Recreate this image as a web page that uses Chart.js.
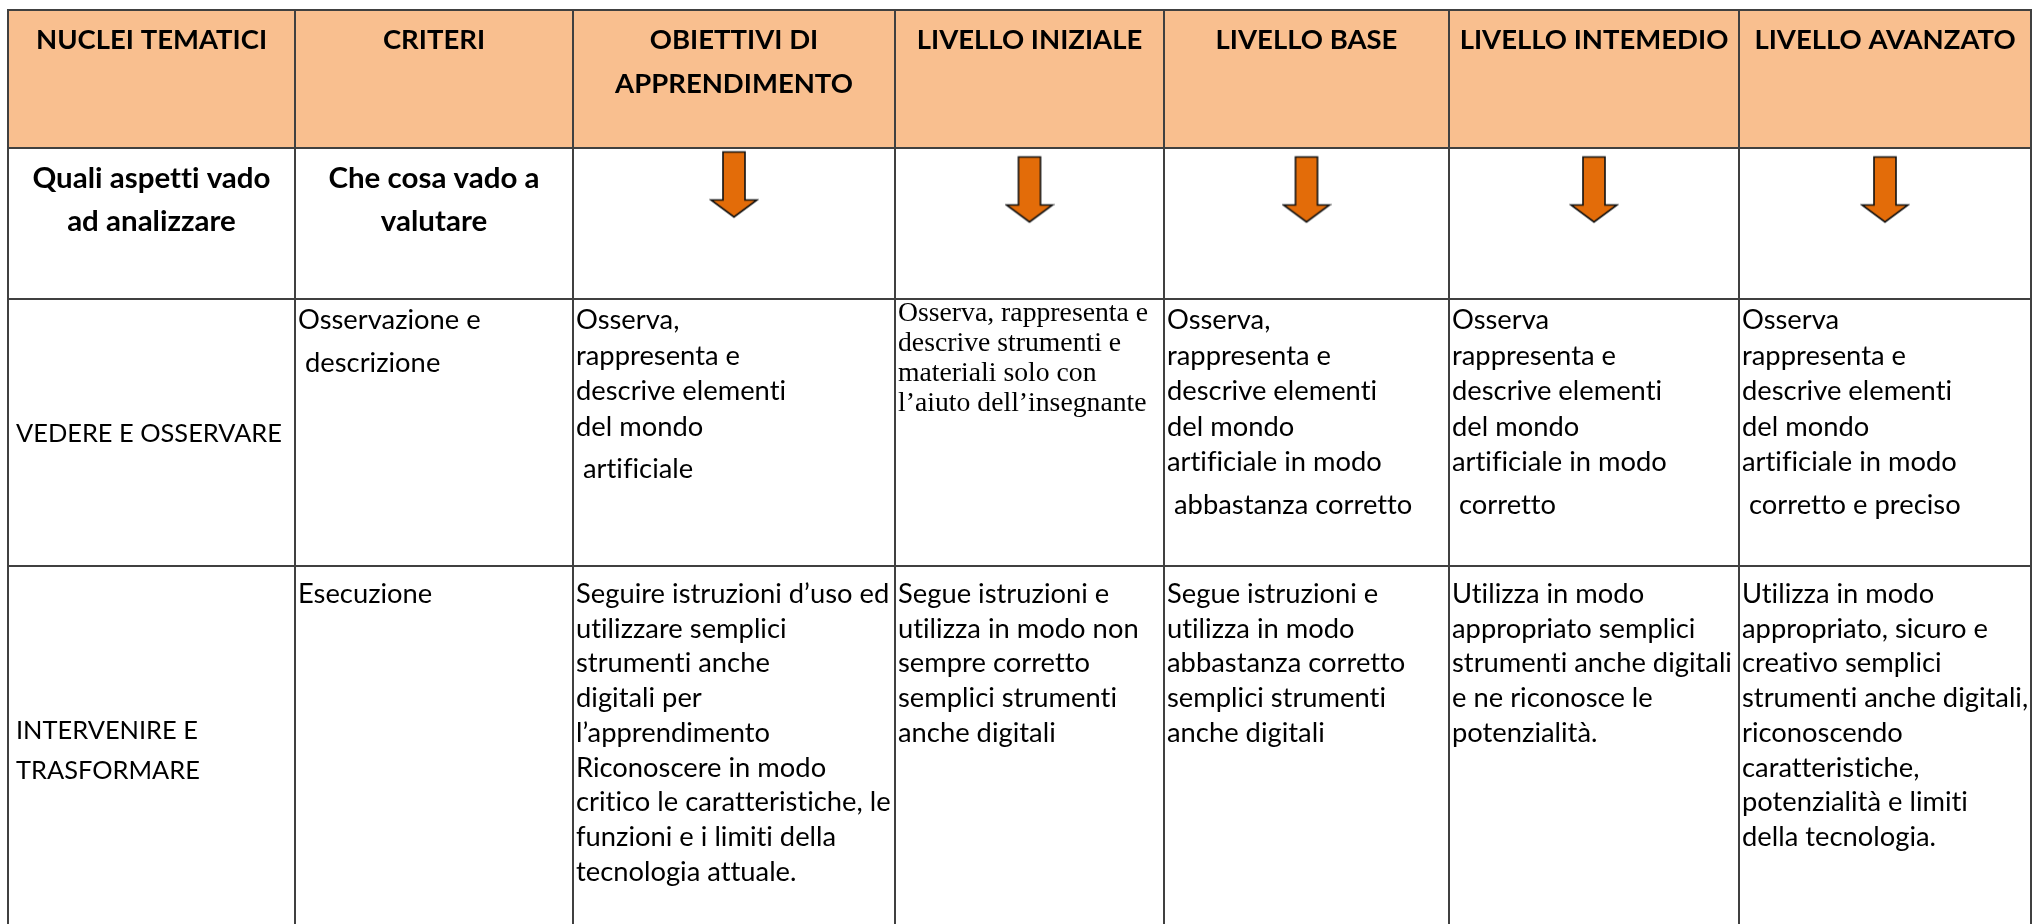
<!DOCTYPE html>
<html>
<head>
<meta charset="utf-8">
<script src="https://cdn.jsdelivr.net/npm/chart.js@4.4.1/dist/chart.umd.min.js"></script>
<style>
  html, body { margin: 0; padding: 0; background: #fff; }
  #wrap { width: 2033px; height: 924px; position: relative; }
</style>
</head>
<body>
<div id="wrap"><canvas id="rubric"></canvas></div>
<script>
// ---- table contents ----
const HEADERS = [
  "NUCLEI TEMATICI",
  "CRITERI",
  "OBIETTIVI DI\nAPPRENDIMENTO",
  "LIVELLO INIZIALE",
  "LIVELLO BASE",
  "LIVELLO INTEMEDIO",
  "LIVELLO AVANZATO"
];
const GUIDE_ROW = ["Quali aspetti vado\nad analizzare", "Che cosa vado a\nvalutare"];
const NUCLEI = ["VEDERE E OSSERVARE", "INTERVENIRE E\nTRASFORMARE"];
const CRITERI = ["Osservazione e\n descrizione", "Esecuzione"];
const OBIETTIVI = [
  "Osserva,\nrappresenta e\ndescrive elementi\ndel mondo\n artificiale",
  "Seguire istruzioni d’uso ed\nutilizzare semplici\nstrumenti anche\ndigitali per\nl’apprendimento\nRiconoscere in modo\ncritico le caratteristiche, le\nfunzioni e i limiti della\ntecnologia attuale."
];
const LIV_INIZIALE = [
  "Osserva, rappresenta e\ndescrive strumenti e\nmateriali solo con\nl’aiuto dell’insegnante",
  "Segue istruzioni e\nutilizza in modo non\nsempre corretto\nsemplici strumenti\nanche digitali"
];
const LIV_BASE = [
  "Osserva,\nrappresenta e\ndescrive elementi\ndel mondo\nartificiale in modo\n abbastanza corretto",
  "Segue istruzioni e\nutilizza in modo\nabbastanza corretto\nsemplici strumenti\nanche digitali"
];
const LIV_INTERMEDIO = [
  "Osserva\nrappresenta e\ndescrive elementi\ndel mondo\nartificiale in modo\n corretto",
  "Utilizza in modo\nappropriato semplici\nstrumenti anche digitali\ne ne riconosce le\npotenzialità."
];
const LIV_AVANZATO = [
  "Osserva\nrappresenta e\ndescrive elementi\ndel mondo\nartificiale in modo\n corretto e preciso",
  "Utilizza in modo\nappropriato, sicuro e\ncreativo semplici\nstrumenti anche digitali,\nriconoscendo\ncaratteristiche,\npotenzialità e limiti\ndella tecnologia."
];
const ARROW_COLS = [2, 3, 4, 5, 6];

// ---- layout (table units = page pixels) ----
const COL_EDGES = [8, 295, 573, 895, 1164, 1449, 1739, 2031];
const ROW_EDGES = [10, 148, 299, 566, 934]; // last edge lies below the page
const BODY_FIRST = [30, 37];      // first baseline below row top
const BODY_STEP = [35.5, 34.7];
const SERIF_CELL = "0:3";         // row 3 / LIVELLO INIZIALE is in a serif face
const PARA_GAP = 7;
const LINE = "#404040";
const HEAD_FILL = "#F9BF8F";

const SANS = 'Lato, "Open Sans", sans-serif';
const SERIF = '"Liberation Serif", "DejaVu Serif", serif';
const SPACING = "0.01px"; // non-zero spacing keeps Lato from joining "ti"/"fi"

function fitSize(ctx, weight, family, sample, target) {
  ctx.font = weight + " 100px " + family;
  return 100 * target / ctx.measureText(sample).width;
}

function makeArrow() {
  const c = document.createElement("canvas");
  c.width = 50; c.height = 70;
  const g = c.getContext("2d");
  g.beginPath();
  g.moveTo(14, 2.5); g.lineTo(36, 2.5); g.lineTo(36, 50.5); g.lineTo(48, 50.5);
  g.lineTo(25, 67.5); g.lineTo(2, 50.5); g.lineTo(14, 50.5); g.closePath();
  g.fillStyle = "#E36C09"; g.fill();
  g.lineWidth = 1.6; g.strokeStyle = "#111"; g.stroke();
  return c;
}

const colCenter = c => (COL_EDGES[c] + COL_EDGES[c + 1]) / 2;
const arrowY = c => ROW_EDGES[1] + (c === 2 ? 36.5 : 41.5);

function drawLines(ctx, text, x, y0, step, align) {
  let y = y0;
  text.split("\n").forEach((ln, i) => {
    if (i > 0) y += step + (ln.startsWith(" ") ? PARA_GAP : 0);
    ctx.textAlign = align;
    ctx.fillText(ln, x, y);
  });
}

const tablePlugin = {
  id: "rubricTable",
  beforeDraw(chart) {
    const { ctx } = chart;
    const xs = chart.scales.x, ys = chart.scales.y;
    ctx.save();
    ctx.fillStyle = "#fff";
    ctx.fillRect(0, 0, chart.width, chart.height);
    const x0 = xs.getPixelForValue(COL_EDGES[0]);
    const x1 = xs.getPixelForValue(COL_EDGES[COL_EDGES.length - 1]);
    const y0 = ys.getPixelForValue(ROW_EDGES[0]);
    const y1 = ys.getPixelForValue(ROW_EDGES[1]);
    ctx.fillStyle = HEAD_FILL;
    ctx.fillRect(x0, y0, x1 - x0, y1 - y0);
    ctx.restore();
  },
  afterDraw(chart) {
    const { ctx } = chart;
    const xs = chart.scales.x, ys = chart.scales.y;
    const L = c => xs.getPixelForValue(COL_EDGES[c]);
    const C = c => xs.getPixelForValue(colCenter(c));
    const T = r => ys.getPixelForValue(ROW_EDGES[r]);

    ctx.save();
    if ("letterSpacing" in ctx) ctx.letterSpacing = SPACING;
    const head = fitSize(ctx, "bold", SANS, "NUCLEI TEMATICI", 231);
    const guide = fitSize(ctx, "bold", SANS, "Quali aspetti vado", 238);
    const caps = fitSize(ctx, "normal", SANS, "VEDERE E OSSERVARE", 266);
    const body = fitSize(ctx, "normal", SANS, "descrive elementi", 210);
    const serif = fitSize(ctx, "normal", SERIF, "Osserva, rappresenta e", 250);
    const font = (w, s, f) => w + " " + s.toFixed(2) + "px " + f;

    ctx.fillStyle = "#000";
    ctx.textBaseline = "alphabetic";

    ctx.font = font("bold", head, SANS);
    HEADERS.forEach((h, c) => drawLines(ctx, h, C(c), T(0) + 39, 44, "center"));
    ctx.font = font("bold", guide, SANS);
    GUIDE_ROW.forEach((h, c) => drawLines(ctx, h, C(c), T(1) + 40, 43, "center"));

    const levels = [CRITERI, OBIETTIVI, LIV_INIZIALE, LIV_BASE, LIV_INTERMEDIO, LIV_AVANZATO];
    for (let k = 0; k < 2; k++) {
      const r = k + 2;
      // nucleo tematico: vertically centred in its row
      ctx.font = font("normal", caps, SANS);
      const lines = NUCLEI[k].split("\n");
      const mid = (T(r) + T(r + 1)) / 2;
      const nStep = 40;
      const first = mid - (lines.length - 1) * nStep / 2 + caps * 0.36;
      drawLines(ctx, NUCLEI[k], L(0) + 8, first, nStep, "left");

      levels.forEach((col, i) => {
        const c = i + 1;
        if (SERIF_CELL === k + ":" + c) {
          ctx.font = font("normal", serif, SERIF);
          drawLines(ctx, col[k], L(c) + 3, T(r) + 22, 30, "left");
        } else {
          ctx.font = font("normal", body, SANS);
          drawLines(ctx, col[k], L(c) + 3, T(r) + BODY_FIRST[k], BODY_STEP[k], "left");
        }
      });
    }
    ctx.restore();
  }
};

Chart.register(tablePlugin);

new Chart(document.getElementById("rubric"), {
  type: "scatter",
  data: {
    datasets: [{
      label: "frecce",
      data: ARROW_COLS.map(c => ({ x: colCenter(c), y: arrowY(c) })),
      pointStyle: makeArrow(),
      pointRadius: 1,
      pointHoverRadius: 1
    }]
  },
  options: {
    responsive: true,
    maintainAspectRatio: false,
    animation: false,
    events: [],
    layout: { autoPadding: false, padding: { left: 7, right: 1, top: 9, bottom: 0 } },
    plugins: { legend: { display: false }, tooltip: { enabled: false } },
    scales: {
      x: {
        type: "linear", min: 7, max: 2032,
        afterBuildTicks: s => { s.ticks = COL_EDGES.map(v => ({ value: v })); },
        ticks: { display: false },
        grid: { color: LINE, lineWidth: 2, drawTicks: false },
        border: { display: false }
      },
      y: {
        type: "linear", min: 9, max: 924, reverse: true,
        afterBuildTicks: s => { s.ticks = ROW_EDGES.slice(0, 4).map(v => ({ value: v })); },
        ticks: { display: false },
        grid: { color: LINE, lineWidth: 2, drawTicks: false },
        border: { display: false }
      }
    }
  }
});
</script>
</body>
</html>
